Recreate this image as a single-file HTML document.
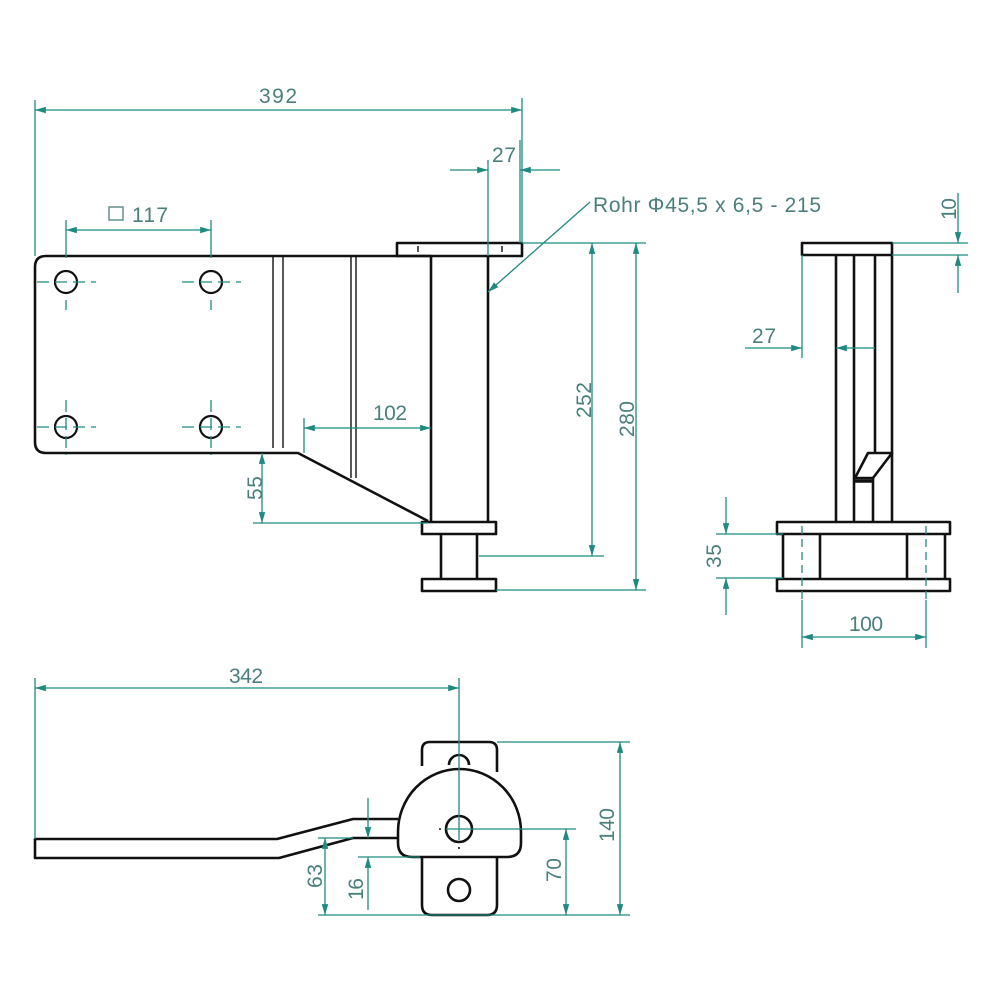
<!DOCTYPE html>
<html><head><meta charset="utf-8"><style>
html,body{margin:0;padding:0;background:#fff;}
svg{display:block}
.k{fill:none;stroke:#111;stroke-width:2.6;stroke-linejoin:round}
.t{fill:none;stroke:#111;stroke-width:1.4}
.d{fill:none;stroke:#1f8a80;stroke-width:1.3}
.dc{fill:none;stroke:#1f8a80;stroke-width:1.3;stroke-dasharray:12,6}
text{font-family:"Liberation Sans",sans-serif;font-size:21px;fill:#4a7f7c}
</style></head><body>
<svg width="1000" height="1000" viewBox="0 0 1000 1000" xmlns="http://www.w3.org/2000/svg">
<defs>
<marker id="a" viewBox="0 0 10 6" refX="10" refY="3" markerWidth="16" markerHeight="6.5" markerUnits="userSpaceOnUse" orient="auto-start-reverse"><path d="M0,0 L10,3 L0,6 z" fill="#1f8a80"/></marker>
</defs>

<!-- FRONT VIEW -->
<path class="k" d="M431,256 H46 Q35,256 35,267 V442 Q35,453 46,453 H298 L428,521"/>
<line class="t" x1="273" y1="256" x2="273" y2="448"/><line class="t" x1="283" y1="256" x2="283" y2="448"/>
<line class="t" x1="351" y1="256" x2="351" y2="478"/><line class="t" x1="356" y1="256" x2="356" y2="478"/>
<rect class="k" x="397" y="243" width="125" height="13"/>
<line class="t" x1="418" y1="246" x2="418" y2="252"/><line class="t" x1="502" y1="246" x2="502" y2="252"/>
<line class="k" x1="431" y1="256" x2="431" y2="522"/><line class="k" x1="488" y1="256" x2="488" y2="522"/>
<rect class="k" x="422" y="522" width="74" height="12"/>
<line class="k" x1="441" y1="534" x2="441" y2="579"/><line class="k" x1="477" y1="534" x2="477" y2="579"/>
<rect class="k" x="422" y="579" width="74" height="12"/>
<g class="k" style="stroke-width:2.2">
<circle cx="66" cy="282" r="11"/><circle cx="211" cy="282" r="11"/><circle cx="66" cy="427" r="11"/><circle cx="211" cy="427" r="11"/>
</g>
<g class="dc">
<line x1="37" y1="282" x2="96" y2="282"/><line x1="182" y1="282" x2="241" y2="282"/>
<line x1="37" y1="427" x2="96" y2="427"/><line x1="182" y1="427" x2="241" y2="427"/>
<line x1="66" y1="300" x2="66" y2="310"/><line x1="211" y1="300" x2="211" y2="310"/>
<line x1="66" y1="400" x2="66" y2="455" /><line x1="211" y1="400" x2="211" y2="455"/>
</g>
<!-- dims front -->
<line class="d" x1="35" y1="100" x2="35" y2="256"/><line class="d" x1="522" y1="98" x2="522" y2="243"/>
<line class="d" x1="35" y1="110" x2="522" y2="110" marker-start="url(#a)" marker-end="url(#a)"/>
<text x="259" y="103" textLength="38">392</text>
<line class="d" x1="66" y1="220" x2="66" y2="258"/><line class="d" x1="211" y1="220" x2="211" y2="258"/>
<line class="d" x1="66" y1="230" x2="211" y2="230" marker-start="url(#a)" marker-end="url(#a)"/>
<rect x="109" y="207" width="14" height="13" fill="none" stroke="#4a7f7c" stroke-width="1.3"/>
<text x="132" y="222" textLength="36">117</text>
<line class="d" x1="488" y1="160" x2="488" y2="256"/><line class="d" x1="520" y1="140" x2="520" y2="243"/>
<line class="d" x1="450" y1="170" x2="488" y2="170" marker-end="url(#a)"/><line class="d" x1="560" y1="170" x2="520" y2="170" marker-end="url(#a)"/>
<text x="492" y="162" textLength="24">27</text>
<line class="d" x1="590" y1="202" x2="488" y2="292" marker-end="url(#a)"/>
<text x="593" y="212" textLength="228">Rohr Φ45,5 x 6,5 - 215</text>
<line class="d" x1="522" y1="243" x2="646" y2="243"/>
<line class="d" x1="479" y1="556" x2="604" y2="556"/><line class="d" x1="496" y1="590" x2="646" y2="590"/>
<line class="d" x1="592" y1="243" x2="592" y2="556" marker-start="url(#a)" marker-end="url(#a)"/>
<line class="d" x1="636" y1="243" x2="636" y2="590" marker-start="url(#a)" marker-end="url(#a)"/>
<text transform="translate(591,418) rotate(-90)" textLength="36">252</text>
<text transform="translate(634,437) rotate(-90)" textLength="36">280</text>
<line class="d" x1="253" y1="523" x2="428" y2="523"/>
<line class="d" x1="262" y1="453" x2="262" y2="523" marker-start="url(#a)" marker-end="url(#a)"/>
<text transform="translate(262,500) rotate(-90)" textLength="24">55</text>
<line class="d" x1="304" y1="418" x2="304" y2="453"/>
<line class="d" x1="304" y1="428" x2="431" y2="428" marker-start="url(#a)" marker-end="url(#a)"/>
<text x="373" y="420" textLength="34">102</text>

<!-- SIDE VIEW -->
<rect class="k" x="802" y="243" width="90" height="12"/>
<line class="k" x1="836" y1="255" x2="836" y2="522"/><line class="k" x1="854" y1="255" x2="854" y2="522"/>
<line class="k" x1="875" y1="255" x2="875" y2="453"/><line class="k" x1="892" y1="255" x2="892" y2="522"/>
<path class="k" d="M868,453 H892 L873,478 H855 Z"/>
<line class="k" x1="854" y1="481" x2="873" y2="481" style="stroke-width:3.5"/>
<line class="k" x1="873" y1="478" x2="873" y2="522"/>
<rect class="k" x="777" y="522" width="173" height="12"/>
<rect class="k" x="777" y="579" width="173" height="12"/>
<line class="k" x1="783" y1="534" x2="783" y2="579"/><line class="k" x1="820" y1="534" x2="820" y2="579"/>
<line class="k" x1="907" y1="534" x2="907" y2="579"/><line class="k" x1="945" y1="534" x2="945" y2="579"/>
<line class="dc" x1="802" y1="526" x2="802" y2="600" style="stroke-dasharray:8,5"/>
<line class="dc" x1="926" y1="526" x2="926" y2="600" style="stroke-dasharray:8,5"/>
<line class="d" x1="802" y1="600" x2="802" y2="648"/><line class="d" x1="926" y1="600" x2="926" y2="648"/>
<line class="d" x1="802" y1="637" x2="926" y2="637" marker-start="url(#a)" marker-end="url(#a)"/>
<text x="849" y="631" textLength="34">100</text>
<line class="d" x1="892" y1="243" x2="968" y2="243"/><line class="d" x1="892" y1="255" x2="968" y2="255"/>
<line class="d" x1="958" y1="193" x2="958" y2="243" marker-end="url(#a)"/>
<line class="d" x1="958" y1="293" x2="958" y2="255" marker-end="url(#a)"/>
<text transform="translate(956,220) rotate(-90)" textLength="22">10</text>
<line class="d" x1="802" y1="255" x2="802" y2="358"/>
<line class="d" x1="745" y1="348" x2="802" y2="348" marker-end="url(#a)"/>
<line class="d" x1="875" y1="348" x2="836" y2="348" marker-end="url(#a)"/>
<text x="752" y="343" textLength="24">27</text>
<line class="d" x1="716" y1="534" x2="783" y2="534"/><line class="d" x1="716" y1="578" x2="783" y2="578"/>
<line class="d" x1="726" y1="497" x2="726" y2="534" marker-end="url(#a)"/>
<line class="d" x1="726" y1="615" x2="726" y2="578" marker-end="url(#a)"/>
<text transform="translate(721,568) rotate(-90)" textLength="24">35</text>

<!-- BOTTOM VIEW -->
<path class="k" d="M398,819 H353 L277,839 H35 V858 H279 L353,838 H398"/>
<path class="k" d="M422,766 V750 Q422,742 430,742 H489 Q497,742 497,750 V772"/>
<path class="k" d="M449,765 A10,10 0 0 1 469,765"/>
<path class="k" d="M398,832 A61.5,63 0 0 1 521,832 V843 Q521,857 507,857 H412 Q398,857 398,843 Z"/>
<path class="k" d="M422,857 V905 Q422,915 432,915 H487 Q497,915 497,905 V857"/>
<circle class="k" cx="459" cy="829" r="13"/>
<circle class="k" cx="459" cy="890" r="11"/>
<line class="d" x1="459" y1="678" x2="459" y2="840"/>
<line class="d" x1="446" y1="829" x2="576" y2="829"/>
<circle cx="440" cy="829" r="1" fill="#111"/><circle cx="459" cy="848" r="1" fill="#111"/>
<line class="d" x1="35" y1="678" x2="35" y2="839"/>
<line class="d" x1="35" y1="688" x2="459" y2="688" marker-start="url(#a)" marker-end="url(#a)"/>
<text x="229" y="683" textLength="34">342</text>
<line class="d" x1="497" y1="742" x2="630" y2="742"/>
<line class="d" x1="318" y1="915" x2="630" y2="915"/>
<line class="d" x1="620" y1="742" x2="620" y2="915" marker-start="url(#a)" marker-end="url(#a)"/>
<text transform="translate(614,842) rotate(-90)" textLength="34">140</text>
<line class="d" x1="566" y1="829" x2="566" y2="915" marker-start="url(#a)" marker-end="url(#a)"/>
<text transform="translate(561,882) rotate(-90)" textLength="24">70</text>
<line class="d" x1="318" y1="838" x2="353" y2="838"/>
<line class="d" x1="325" y1="838" x2="325" y2="915" marker-start="url(#a)" marker-end="url(#a)"/>
<text transform="translate(322,888) rotate(-90)" textLength="24">63</text>
<line class="d" x1="358" y1="857" x2="420" y2="857"/>
<line class="d" x1="368" y1="798" x2="368" y2="838" marker-end="url(#a)"/>
<line class="d" x1="368" y1="910" x2="368" y2="857" marker-end="url(#a)"/>
<text transform="translate(363,900) rotate(-90)" textLength="22">16</text>
</svg>
</body></html>
